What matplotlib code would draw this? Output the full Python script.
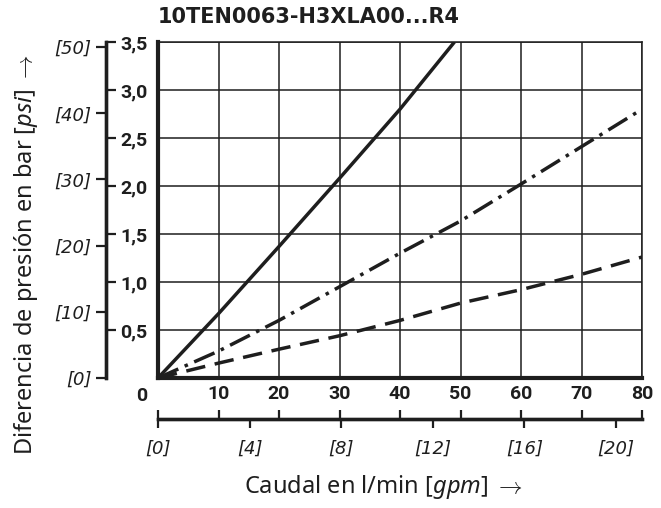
import matplotlib
matplotlib.use("Agg")
import matplotlib.pyplot as plt

# curve data (l/min -> bar)
caudal_solid = [0, 10, 20, 30, 40, 49]
dp_solid = [0, 0.67, 1.37, 2.08, 2.8, 3.5]
caudal = [0, 10, 20, 30, 40, 50, 60, 70, 80]
dp_dashdot = [0, 0.28, 0.60, 0.95, 1.30, 1.635, 2.02, 2.41, 2.80]
dp_dashed = [0, 0.155, 0.30, 0.44, 0.60, 0.78, 0.92, 1.08, 1.26]

x_ticks = [0, 10, 20, 30, 40, 50, 60, 70, 80]
bar_ticks = [0.5, 1.0, 1.5, 2.0, 2.5, 3.0, 3.5]
bar_labels = ["0,5", "1,0", "1,5", "2,0", "2,5", "3,0", "3,5"]
psi_ticks = [0, 10, 20, 30, 40, 50]
gpm_ticks = [0, 4, 8, 12, 16, 20]
title = "10TEN0063-H3XLA00...R4"

BAR_PSI = 14.5038
GPM_L = 3.78541

plt.rcParams['lines.scale_dashes'] = False
plt.rcParams['mathtext.fontset'] = 'custom'
plt.rcParams['mathtext.rm'] = 'Noto Sans'
plt.rcParams['mathtext.it'] = 'Noto Sans:italic'

ink = "#1e1e1e"
cond = ["Roboto", "DejaVu Sans"]
ital = ["DejaVu Sans"]

fig = plt.figure(figsize=(6.61, 5.08), dpi=100)
ax = fig.add_axes([158/661, 1 - 378/508, 484/661, 336/508])
ax.set_xlim(0, 80)
ax.set_ylim(0, 3.5)

ax.set_xticks(x_ticks)
ax.set_yticks([0] + bar_ticks)
ax.tick_params(length=0, labelbottom=False, labelleft=False)
ax.grid(True, color=ink, lw=1.1)
for s in ["left", "bottom"]:
    ax.spines[s].set_linewidth(3)
    ax.spines[s].set_color(ink)
for s in ["top", "right"]:
    ax.spines[s].set_linewidth(1.1)
    ax.spines[s].set_color(ink)

lw = 2.5
ax.plot(caudal_solid, dp_solid, color=ink, lw=lw, solid_capstyle="butt")
ax.plot(caudal, dp_dashdot, color=ink, lw=lw, dashes=(16, 5, 2.5, 5),
        dash_capstyle="butt")
ax.plot(caudal, dp_dashed, color=ink, lw=lw, dashes=(14, 7),
        dash_capstyle="butt")

# left scale: psi outside, bar inside
yloc = -52/484
psi = ax.secondary_yaxis(yloc, functions=(lambda b: b * BAR_PSI,
                                          lambda p: p / BAR_PSI))
psi.set_yticks(psi_ticks, [f"[{p}]" for p in psi_ticks],
               fontstyle="italic", family=ital, fontsize=13)
psi.tick_params(direction="out", length=7, width=1.6, pad=3.5, colors=ink)
psi.spines["left"].set_linewidth(2.4)
psi.spines["left"].set_color(ink)

bar = ax.secondary_yaxis(yloc)
bar.set_alignment("right")
bar.set_yticks(bar_ticks, bar_labels, fontweight="bold", family=cond,
               fontsize=14)
bar.tick_params(direction="out", length=7, width=1.6, pad=3.5, colors=ink)
bar.spines["right"].set_linewidth(2.4)
bar.spines["right"].set_color(ink)

# bottom scale: l/min above, gpm below
xloc = -41/336
lmin = ax.secondary_xaxis(xloc)
lmin.set_alignment("top")
lmin.set_xticks(x_ticks, [""] + [str(v) for v in x_ticks[1:]],
                fontweight="bold", family=cond, fontsize=14)
lmin.tick_params(direction="out", length=6.7, width=1.6, pad=4.5, colors=ink)
lmin.spines["top"].set_linewidth(2.4)
lmin.spines["top"].set_color(ink)
ax.annotate("0", xy=(0, -18/336), xycoords=ax.get_xaxis_transform(),
            xytext=(-8, 0), textcoords="offset points", ha="right",
            va="center", fontweight="bold", family=cond, fontsize=14,
            color=ink)

gpm = ax.secondary_xaxis(xloc, functions=(lambda l: l / GPM_L,
                                          lambda g: g * GPM_L))
gpm.set_xticks(gpm_ticks, [f"[{g}]" for g in gpm_ticks],
               fontstyle="italic", family=ital, fontsize=13)
gpm.tick_params(direction="out", length=6.7, width=1.6, pad=8, colors=ink)
gpm.spines["bottom"].set_linewidth(2.4)
gpm.spines["bottom"].set_color(ink)

fig.text(158/661, 1 - 23/508, title, ha="left", va="baseline",
         fontweight="bold", family="DejaVu Sans", fontsize=15,
         color=ink)
fig.text(383/661, 1 - 493/508,
         r"Caudal en l/min $\mathit{[gpm]}$ $\rightarrow$",
         ha="center", va="baseline", family="Noto Sans", fontsize=17,
         color=ink)
fig.text(32/661, 1 - 255/508,
         r"Diferencia de presión en bar $\mathit{[psi]}$ $\rightarrow$",
         ha="center", va="baseline", rotation=90, rotation_mode="anchor",
         family="Noto Sans", fontsize=17, color=ink)

fig.savefig("out.png", dpi=100)
